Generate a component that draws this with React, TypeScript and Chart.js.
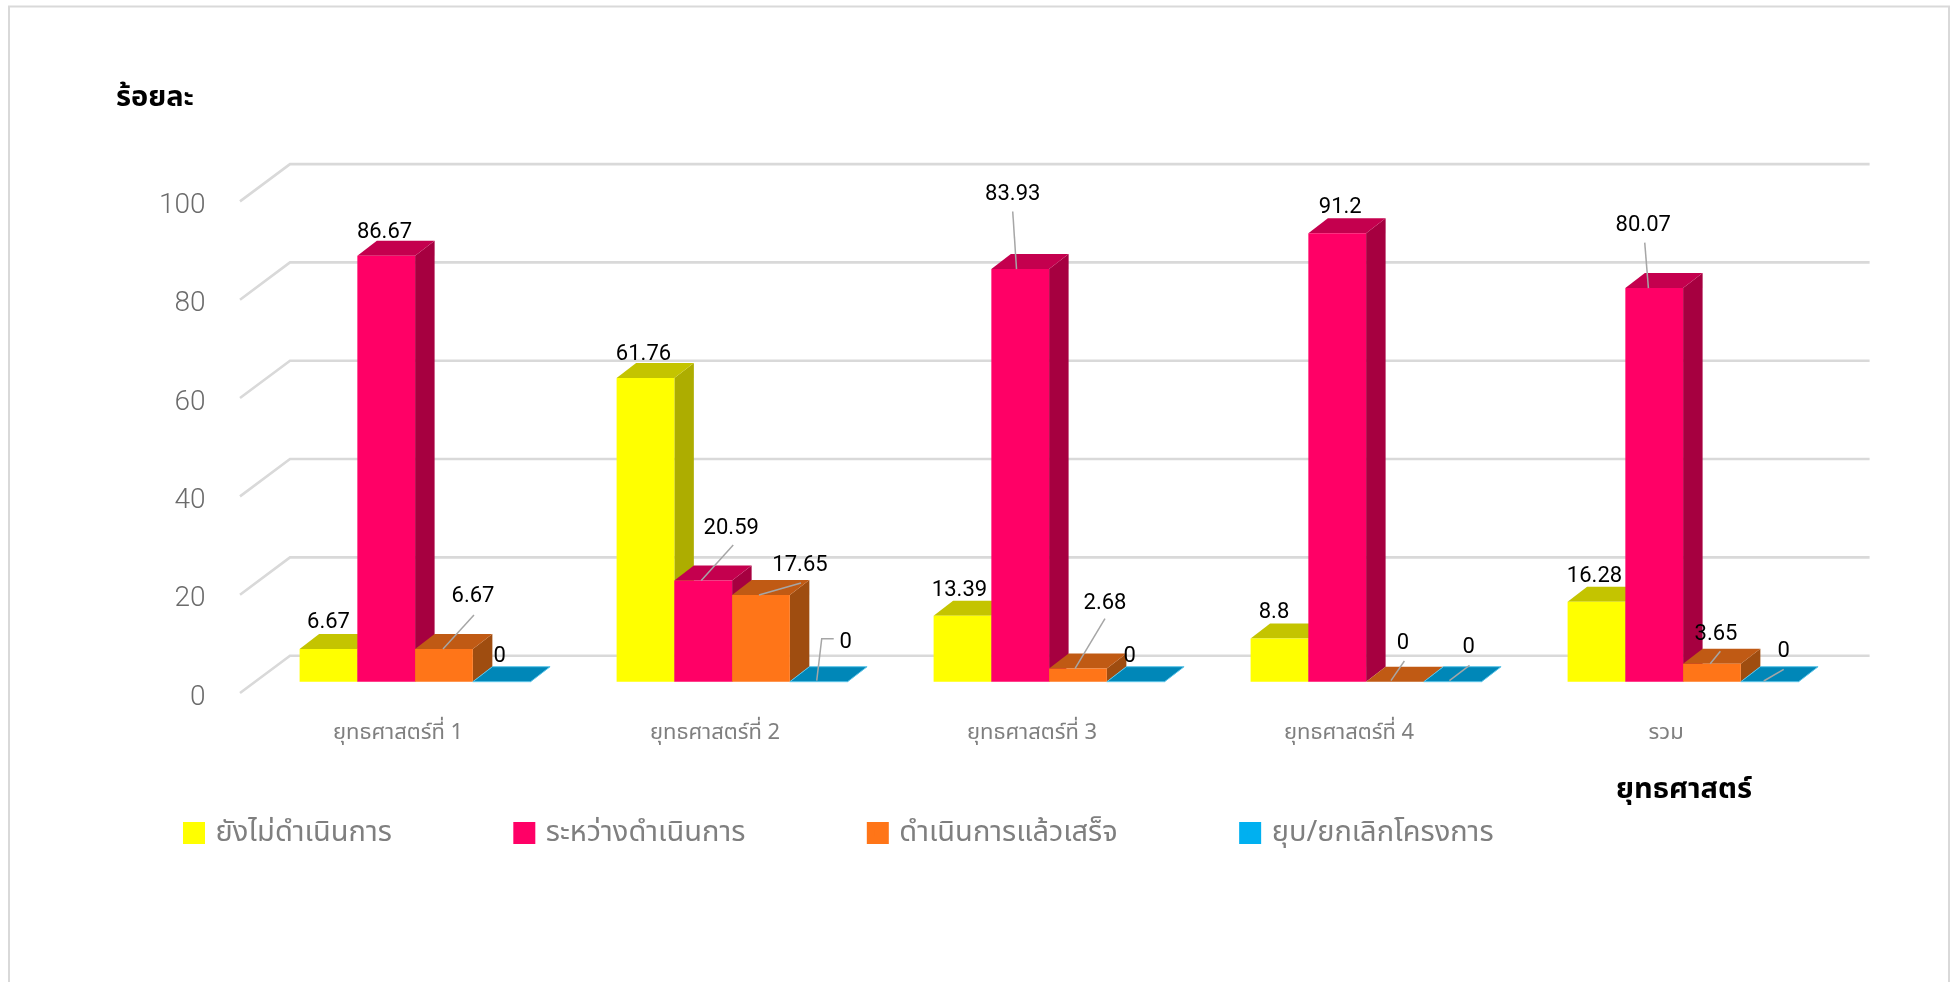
import React, { useEffect, useRef } from "react";
import { Chart, registerables } from "chart.js";

Chart.register(...registerables);

const categories = ["ยุทธศาสตร์ที่ 1", "ยุทธศาสตร์ที่ 2", "ยุทธศาสตร์ที่ 3", "ยุทธศาสตร์ที่ 4", "รวม"];
const notStarted = [6.67, 61.76, 13.39, 8.8, 16.28];
const inProgress = [86.67, 20.59, 83.93, 91.2, 80.07];
const completed = [6.67, 17.65, 2.68, 0, 3.65];
const cancelled = [0, 0, 0, 0, 0];
const seriesNames = ["ยังไม่ดำเนินการ", "ระหว่างดำเนินการ", "ดำเนินการแล้วเสร็จ", "ยุบ/ยกเลิกโครงการ"];
const yTitle = "ร้อยละ";
const xTitle = "ยุทธศาสตร์";

const FRONT = ["#FFFF00", "#FF0066", "#FF7518", "#00B0F0"];
const TOP = ["#C4C400", "#C4004E", "#C05A14", "#0087B8"];
const SIDE = ["#ADAD00", "#A60040", "#9F4D10", "#00739D"];

const DEPTH_X = 19.5;
const DEPTH_Y = 15;
const THAI = '"Noto Sans", "Noto Sans Thai", Loma, Garuda, sans-serif';
const LIGHT = "Roboto";
const LEGEND_TOP = 693;

// label offsets relative to the top-centre of each bar
const labelOffsets: number[][][] = [
  [[0, -26], [-2, -24], [-3, -25.5], [-5.5, -25.6], [-2, -25]],
  [[-1.7, -23.6], [28, -52], [-7.5, -75], [3, -26], [-11, -63]],
  [[29, -52], [39, -29], [27, -65], [8, -38], [4, -29]],
  [[-2, -25], [27, -39], [-6, -25], [16, -34], [14, -30]],
];
const leaders: (number[][] | null)[][] = [
  [null, null, null, null, null],
  [null, [[30, -35.5], [-2, 0]], [[-7.5, -57.6], [-3.7, 0]], null, [[-9.5, -45.5], [-5.8, 0]]],
  [[[30, -34], [-1, 0]], [[40, -12], [-2, 0]], [[27, -50], [-3, 0]], [[9.4, -20.7], [-4, -1]], [[8.4, -12.5], [-1.8, 0]]],
  [null, [[15, -43], [3, -43], [-2, -1]], null, [[16.8, -16.4], [-3.3, -1]], [[14, -12.4], [-6, -0.7]]],
];

const scene = {
  id: "scene",
  afterLayout(chart: any) {
    const lg = chart.legend;
    lg.top = LEGEND_TOP;
    lg.bottom = LEGEND_TOP + 190;
  },
  beforeDraw(chart: any) {
    const { ctx, width, height } = chart;
    ctx.save();
    ctx.strokeStyle = "#D9D9D9";
    ctx.lineWidth = 2;
    ctx.strokeRect(9, 6.5, width - 11, height + 20);
    ctx.restore();
  },
  beforeDatasetsDraw(chart: any) {
    const { ctx, chartArea, scales } = chart;
    ctx.save();
    ctx.strokeStyle = "#D9D9D9";
    ctx.lineWidth = 2.6;
    for (const t of scales.y.ticks) {
      const y = scales.y.getPixelForValue(t.value);
      ctx.beginPath();
      ctx.moveTo(chartArea.left - 16.6, y + 11.3);
      ctx.lineTo(chartArea.left + 33.4, y - 26);
      ctx.lineTo(chartArea.right + 28, y - 26);
      ctx.stroke();
    }
    chart.data.datasets.forEach((_: any, s: number) => {
      const meta = chart.getDatasetMeta(s);
      meta.data.forEach((bar: any) => {
        const l = bar.x - bar.width / 2;
        const r = bar.x + bar.width / 2;
        const t = bar.y;
        const b = bar.base;
        ctx.fillStyle = SIDE[s];
        ctx.beginPath();
        ctx.moveTo(r, t);
        ctx.lineTo(r + DEPTH_X, t - DEPTH_Y);
        ctx.lineTo(r + DEPTH_X, b - DEPTH_Y);
        ctx.lineTo(r, b);
        ctx.closePath();
        ctx.fill();
        ctx.fillStyle = TOP[s];
        ctx.beginPath();
        ctx.moveTo(l, t);
        ctx.lineTo(l + DEPTH_X, t - DEPTH_Y);
        ctx.lineTo(r + DEPTH_X, t - DEPTH_Y);
        ctx.lineTo(r, t);
        ctx.closePath();
        ctx.fill();
        if (s === 3) {
          ctx.strokeStyle = "#5CC4E8";
          ctx.lineWidth = 1;
          ctx.stroke();
        }
        bar.draw(ctx);
      });
    });
    ctx.restore();
    return false;
  },
  afterDraw(chart: any) {
    const { ctx } = chart;
    ctx.save();
    ctx.strokeStyle = "#A6A6A6";
    ctx.lineWidth = 1.5;
    ctx.fillStyle = "#000";
    ctx.textAlign = "center";
    ctx.textBaseline = "middle";
    ctx.font = `22px ${LIGHT}`;
    chart.data.datasets.forEach((ds: any, s: number) => {
      chart.getDatasetMeta(s).data.forEach((bar: any, k: number) => {
        const path = leaders[s][k];
        if (path) {
          ctx.beginPath();
          path.forEach((p, i) => (i ? ctx.lineTo(bar.x + p[0], bar.y + p[1]) : ctx.moveTo(bar.x + p[0], bar.y + p[1])));
          ctx.stroke();
        }
        const o = labelOffsets[s][k];
        ctx.fillText(String(ds.data[k]), bar.x + o[0], bar.y + o[1]);
      });
    });
    ctx.font = `bold 29px ${THAI}`;
    ctx.fillText(yTitle, 155, 98);
    ctx.fillText(xTitle, 1684, 790);
    ctx.restore();
  },
};

export default function App() {
  const ref = useRef<HTMLCanvasElement>(null);
  useEffect(() => {
    const values = [notStarted, inProgress, completed, cancelled];
    const chart = new Chart(ref.current as HTMLCanvasElement, {
      type: "bar",
      data: {
        labels: categories,
        datasets: values.map((data, i) => ({
          label: seriesNames[i],
          data,
          backgroundColor: FRONT[i],
          borderWidth: 0,
          categoryPercentage: 0.7287,
          barPercentage: 1,
        })),
      },
      options: {
        responsive: false,
        animation: false,
        devicePixelRatio: 1,
        layout: { padding: { left: 61.5, top: 190.1, right: 109.4, bottom: 170.3 } },
        scales: {
          x: {
            grid: { display: false },
            border: { display: false },
            ticks: {
              font: { family: THAI, size: 22 },
              color: "#7F7F7F",
              labelOffset: -17,
              padding: 30,
              maxRotation: 0,
              autoSkip: false,
            },
            afterFit(s: any) {
              s.height = 90;
              s.paddingLeft = s.paddingRight = s.paddingTop = s.paddingBottom = 0;
            },
          },
          y: {
            min: 0,
            max: 100,
            grid: { display: false },
            border: { display: false },
            ticks: {
              stepSize: 20,
              font: { family: LIGHT, size: 28, weight: "300" },
              color: "#6B6B6B",
              padding: 43,
              labelOffset: 16,
            },
            afterFit(s: any) {
              s.width = 195.1;
              s.paddingLeft = s.paddingRight = s.paddingTop = s.paddingBottom = 0;
            },
          },
        },
        plugins: {
          tooltip: { enabled: false },
          legend: {
            position: "bottom",
            align: "start",
            maxHeight: 40,
            labels: {
              boxWidth: 14,
              boxHeight: 14,
              padding: 125.5,
              color: "#7F7F7F",
              font: { family: THAI, size: 29 },
              generateLabels: (c: any) =>
                c.data.datasets.map((d: any, i: number) => ({
                  text: d.label,
                  fillStyle: FRONT[i],
                  strokeStyle: FRONT[i],
                  lineWidth: 8,
                  fontColor: "#7F7F7F",
                  datasetIndex: i,
                })),
            },
          },
        },
      },
      plugins: [scene],
    } as any);
    return () => chart.destroy();
  }, []);
  return (
    <canvas
      ref={ref}
      width={1951}
      height={982}
      style={{ position: "absolute", left: 0, top: 0, display: "block" }}
    />
  );
}
